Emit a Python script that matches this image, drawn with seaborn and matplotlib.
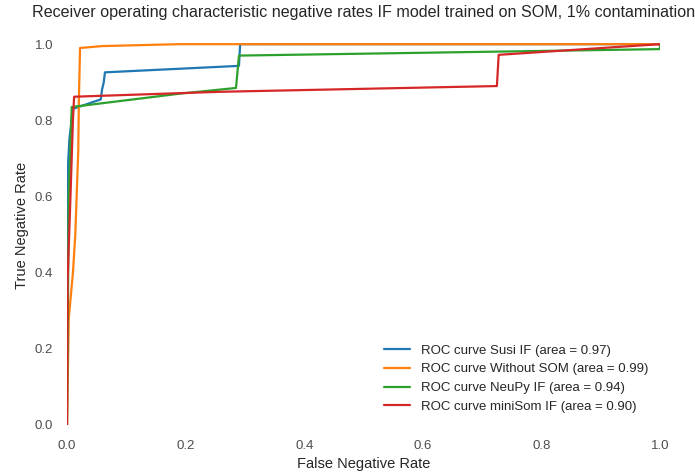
import numpy as np
import pandas as pd
import matplotlib
matplotlib.use("Agg")
import matplotlib.pyplot as plt
import seaborn as sns

# ROC curves
susi_fpr = [0.0, 0.0, 0.002, 0.004, 0.010, 0.057, 0.059, 0.062, 0.064, 0.290, 0.292, 1.0]
susi_tpr = [0.0, 0.55, 0.69, 0.75, 0.83, 0.855, 0.88, 0.90, 0.926, 0.943, 1.0, 1.0]

nosom_fpr = [0.0, 0.003, 0.010, 0.014, 0.019, 0.020, 0.022, 0.060, 0.190, 1.0]
nosom_tpr = [0.0, 0.28, 0.40, 0.50, 0.72, 0.85, 0.99, 0.995, 1.0, 1.0]

neupy_fpr = [0.0, 0.002, 0.003, 0.008, 0.190, 0.285, 0.290, 0.500, 1.0, 1.0]
neupy_tpr = [0.0, 0.40, 0.60, 0.835, 0.870, 0.885, 0.970, 0.975, 0.987, 1.0]

minisom_fpr = [0.0, 0.001, 0.005, 0.010, 0.012, 0.260, 0.725, 0.728, 1.0]
minisom_tpr = [0.0, 0.38, 0.56, 0.80, 0.862, 0.875, 0.890, 0.972, 1.0]

labels = [
    "ROC curve Susi IF (area = 0.97)",
    "ROC curve Without SOM (area = 0.99)",
    "ROC curve NeuPy IF (area = 0.94)",
    "ROC curve miniSom IF (area = 0.90)",
]

frames = []
for lab, fx, ty in zip(labels,
                       [susi_fpr, nosom_fpr, neupy_fpr, minisom_fpr],
                       [susi_tpr, nosom_tpr, neupy_tpr, minisom_tpr]):
    frames.append(pd.DataFrame({"fpr": fx, "tpr": ty, "model": lab,
                                "order": np.arange(len(fx))}))
df = pd.concat(frames, ignore_index=True)

sns.set_theme(style="white")
plt.rcParams["font.family"] = ["Liberation Sans", "DejaVu Sans"]
plt.rcParams["text.color"] = "#262626"

fig = plt.figure(figsize=(6.95, 4.74), dpi=100)
ax = fig.add_axes([0.0964, 0.1034, 0.8532, 0.8436])

palette = ["#1f77b4", "#ff7f0e", "#2ca02c", "#d62728"]
sns.lineplot(data=df, x="fpr", y="tpr", hue="model", palette=palette,
             sort=False, estimator=None, units="model", lw=1.6, ax=ax)

ax.set_xlim(0.0, 1.0)
ax.set_ylim(0.0, 1.05)
ax.set_xticks([0.0, 0.2, 0.4, 0.6, 0.8, 1.0])
ax.set_yticks([0.0, 0.2, 0.4, 0.6, 0.8, 1.0])
ax.tick_params(axis="x", labelsize=9.5, colors="#4d4d4d", length=0, pad=10.5)
ax.tick_params(axis="y", labelsize=9.5, colors="#4d4d4d", length=0, pad=10)
for s in ax.spines.values():
    s.set_visible(False)
ax.set_xlabel("False Negative Rate", fontsize=10.5, color="#262626")
ax.set_ylabel("True Negative Rate", fontsize=10.5, color="#262626")
ax.set_title("Receiver operating characteristic negative rates IF model trained on SOM, 1% contamination",
             fontsize=11.6, color="#262626")
leg = ax.legend(loc="lower right", frameon=False, fontsize=9.5)

fig.savefig("out.png", dpi=100)
